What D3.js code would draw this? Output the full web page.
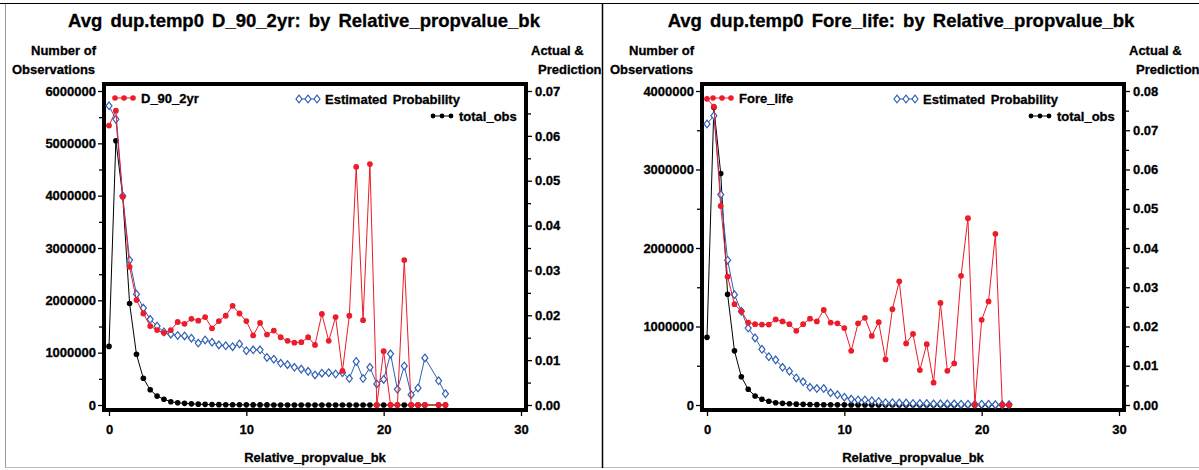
<!DOCTYPE html>
<html>
<head>
<meta charset="utf-8">
<script src="https://cdn.jsdelivr.net/npm/d3@7"></script>
<style>
  body { margin: 0; background: #fff; }
  text { font-family: "Liberation Sans", Arial, sans-serif; font-weight: bold; fill: #000; stroke: #000; stroke-width: 0.3px; }
</style>
</head>
<body>
<svg id="chart"></svg>
<script>
// bucket values of Relative_propvalue_bk
var xLeft = [0,0.5,1,1.5,2,2.5,3,3.5,4,4.5,5,5.5,6,6.5,7,7.5,8,8.5,9,9.5,10,10.5,11,11.5,12,12.5,13,13.5,14,14.5,
             15,15.5,16,16.5,17,17.5,18,18.5,19,19.5,20,20.5,21,21.5,22,22.5,23,24,24.5];
var xRight = [0,0.5,1,1.5,2,2.5,3,3.5,4,4.5,5,5.5,6,6.5,7,7.5,8,8.5,9,9.5,10,10.5,11,11.5,12,12.5,13,13.5,14,14.5,
              15,15.5,16,16.5,17,17.5,18,18.5,19,19.5,20,20.5,21,21.5,22];

// left panel: D_90_2yr
var obsLeft = [1120000,5050000,3990000,1940000,970000,510000,290000,170000,110000,63000,
               44000,32000,22000,16000,12000,9000,7000,5500,4300,3400,
               2700,2200,1800,1500,1200,1000,850,700,600,500,
               420,350,300,250,210,180,150,120,100,90,
               80,70,60,50,40,35,30,20,15];
var d90Actual = [0.0623,0.0656,0.0464,0.0308,0.0234,0.0204,0.0176,0.0167,0.0161,0.0167,
                 0.0185,0.0181,0.0192,0.0188,0.0196,0.0171,0.0187,0.0199,0.0221,0.0204,
                 0.0187,0.0155,0.0183,0.0157,0.0166,0.0151,0.0143,0.0139,0.0140,0.0151,
                 0.0134,0.0203,0.0143,0.0196,0.0076,0.0199,0.0531,0.0189,0.0537,0,
                 0.0120,0,0,0.0323,0,0,0,0,0];
var d90Est = [0.0667,0.0637,0.0466,0.0323,0.0247,0.0216,0.0191,0.0176,0.0163,0.0158,
              0.0155,0.0154,0.0149,0.0138,0.0145,0.0140,0.0134,0.0132,0.0130,0.0136,
              0.0121,0.0123,0.0123,0.0106,0.0102,0.0093,0.0090,0.0084,0.0080,0.0075,
              0.0067,0.0071,0.0072,0.0069,0.0072,0.0059,0.0097,0.0059,0.0084,0.0047,
              0.0057,0.0114,0.0035,0.0087,0.0023,0.0038,0.0105,0.0054,0.0025];

// right panel: Fore_life
var obsRight = [862000,3790000,2950000,1410000,690000,360000,200000,115000,73000,47000,
                29000,21000,15000,11000,8000,6000,4500,3500,2700,2000,
                1600,1300,1000,800,650,520,420,340,280,230,
                190,160,130,110,90,75,60,50,40,32,
                25,20,15,10,8];
var foreActual = [0.0780,0.0760,0.0507,0.0327,0.0257,0.0239,0.0210,0.0206,0.0205,0.0205,
                  0.0218,0.0213,0.0206,0.0189,0.0206,0.0220,0.0213,0.0242,0.0210,0.0208,
                  0.0196,0.0138,0.0208,0.0222,0.0176,0.0211,0.0116,0.0244,0.0315,0.0157,
                  0.0181,0.0089,0.0155,0.0057,0.0260,0.0087,0.0106,0.0329,0.0476,0,
                  0.0217,0.0264,0.0436,0,0];
var foreEst = [0.0716,0.0737,0.0536,0.0369,0.0281,0.0239,0.0196,0.0171,0.0142,0.0123,
               0.0115,0.0096,0.0086,0.0069,0.0059,0.0045,0.0042,0.0042,0.0031,0.0026,
               0.0020,0.0015,0.0013,0.0013,0.0011,0.0009,0.0006,0.0006,0.0005,0.0005,
               0.0004,0.0004,0.0004,0.0003,0.0003,0.0003,0.0003,0.0002,0.0002,0.0002,
               0.0002,0.0002,0.0001,0.0001,0.0001];

// tick labels
var xTicks = [0, 10, 20, 30];
var obsTicksLeft = [0,1000000,2000000,3000000,4000000,5000000,6000000];
var obsTicksRight = [0,1000000,2000000,3000000,4000000];
var probTicksLeft = [0,0.01,0.02,0.03,0.04,0.05,0.06,0.07];
var probTicksRight = [0,0.01,0.02,0.03,0.04,0.05,0.06,0.07,0.08];

var W = 1199, H = 470;
var red = "#ec1c2a", blue = "#2f5fb3";

var svg = d3.select("#chart").attr("width", W).attr("height", H);
svg.append("rect").attr("width", W).attr("height", H).attr("fill", "#fff");

// outer page borders
svg.append("line").attr("x1", 0).attr("x2", W).attr("y1", 3.5).attr("y2", 3.5).attr("stroke", "#000");
svg.append("line").attr("x1", 5.5).attr("x2", 5.5).attr("y1", 4).attr("y2", 468).attr("stroke", "#999");
svg.append("line").attr("x1", 5).attr("x2", W).attr("y1", 467.5).attr("y2", 467.5).attr("stroke", "#bbb");
svg.append("line").attr("x1", 602.5).attr("x2", 602.5).attr("y1", 4).attr("y2", 468).attr("stroke", "#000").attr("stroke-width", 1.5);

function dot(sel, color, r) {
  sel.append("circle").attr("r", r).attr("fill", color);
}
function diamond(sel) {
  sel.append("path").attr("d", "M0,-3.8L3,0L0,3.8L-3,0Z")
    .attr("fill", "#fff").attr("stroke", blue).attr("stroke-width", 1.2);
}

function drawSeries(g, xs, vals, x, y, color, marker) {
  var line = d3.line()
    .x(function(d, i) { return x(xs[i]); })
    .y(function(d) { return y(d); });
  g.append("path").datum(vals)
    .attr("d", line)
    .attr("fill", "none")
    .attr("stroke", color)
    .attr("stroke-width", 1);
  g.selectAll(null).data(vals).enter().append("g")
    .attr("transform", function(d, i) { return "translate(" + x(xs[i]) + "," + y(d) + ")"; })
    .each(function() { marker(d3.select(this)); });
}

function legendItem(g, x0, yy, color, marker, label) {
  g.append("line").attr("x1", x0).attr("x2", x0 + 18).attr("y1", yy).attr("y2", yy)
    .attr("stroke", color).attr("stroke-width", 1);
  [0, 9, 18].forEach(function(dx) {
    marker(g.append("g").attr("transform", "translate(" + (x0 + dx) + "," + yy + ")"));
  });
  g.append("text").attr("x", x0 + 26).attr("y", yy + 4.5).attr("font-size", 13)
    .attr("word-spacing", 2).text(label);
}

function drawPanel(p) {
  var g = svg.append("g").attr("transform", "translate(" + p.ox + ",0)");
  var fl = 104, fr = 526, ft = 84, fb = 410;

  var x = d3.scaleLinear().domain([0, 30]).range([109, 521]);
  var y = d3.scaleLinear().domain([0, p.obsMax]).range([405, 91]);
  var y2 = d3.scaleLinear().domain([0, p.probMax]).range([405, 91]);

  // title and axis headings
  g.append("text").attr("x", p.titleX).attr("y", 27).attr("text-anchor", "middle")
    .attr("font-size", 18.5).attr("word-spacing", 3).attr("stroke-width", 0.4).text(p.title);
  g.append("text").attr("x", 31).attr("y", 55).attr("font-size", 13).text("Number of");
  g.append("text").attr("x", 12).attr("y", 74).attr("font-size", 13).text("Observations");
  g.append("text").attr("x", 531).attr("y", 55).attr("font-size", 13).text("Actual &");
  g.append("text").attr("x", 538).attr("y", 74).attr("font-size", 13).text("Prediction");
  g.append("text").attr("x", (fl + fr) / 2).attr("y", 462).attr("text-anchor", "middle")
    .attr("font-size", 13).text("Relative_propvalue_bk");

  // axes
  var fmtObs = d3.format("d"), fmtProb = d3.format(".2f");
  g.append("g").attr("transform", "translate(" + (fl - 2) + ",0)")
    .call(d3.axisLeft(y).tickValues(p.obsTicks).tickFormat(fmtObs).tickSize(4).tickPadding(2));
  g.append("g").attr("transform", "translate(" + (fl - 2) + ",0)")
    .call(d3.axisLeft(y).tickValues(p.obsTicks.slice(1).map(function(v) { return v - p.obsTicks[1] / 2; }))
      .tickFormat("").tickSize(3));
  g.append("g").attr("transform", "translate(" + (fr + 2) + ",0)")
    .call(d3.axisRight(y2).tickValues(p.probTicks).tickFormat(fmtProb).tickSize(4).tickPadding(3));
  g.append("g").attr("transform", "translate(" + (fr + 2) + ",0)")
    .call(d3.axisRight(y2).tickValues(p.probTicks.slice(1).map(function(v) { return v - 0.005; }))
      .tickFormat("").tickSize(3));
  g.append("g").attr("transform", "translate(0," + (fb + 2) + ")")
    .call(d3.axisBottom(x).tickValues(xTicks).tickFormat(d3.format("d")).tickSize(4).tickPadding(9));
  g.selectAll(".domain").remove();
  g.selectAll(".tick line").attr("stroke", "#000").attr("stroke-width", 1.3);
  g.selectAll(".tick text").attr("font-size", 13).attr("font-family", null).attr("fill", "#000");

  // frame
  g.append("rect").attr("x", fl).attr("y", ft).attr("width", fr - fl).attr("height", fb - ft)
    .attr("fill", "none").attr("stroke", "#000").attr("stroke-width", 4);

  // series
  drawSeries(g, p.xs, p.obs, x, y, "#000", function(s) { dot(s, "#000", 2.8); });
  drawSeries(g, p.xs, p.est, x, y2, blue, diamond);
  drawSeries(g, p.xs, p.actual, x, y2, red, function(s) { dot(s, red, 2.9); });

  // legend
  legendItem(g, fl + 11, 98, red, function(s) { dot(s, red, 2.8); }, p.name);
  legendItem(g, fl + 195, 99, blue, diamond, "Estimated Probability");
  legendItem(g, fl + 329, 116, "#000", function(s) { dot(s, "#000", 2.4); }, "total_obs");
}

drawPanel({
  ox: 0, titleX: 304,
  title: "Avg dup.temp0 D_90_2yr: by Relative_propvalue_bk",
  name: "D_90_2yr",
  xs: xLeft, obs: obsLeft, actual: d90Actual, est: d90Est,
  obsMax: 6000000, obsTicks: obsTicksLeft,
  probMax: 0.07, probTicks: probTicksLeft
});
drawPanel({
  ox: 598, titleX: 303,
  title: "Avg dup.temp0 Fore_life: by Relative_propvalue_bk",
  name: "Fore_life",
  xs: xRight, obs: obsRight, actual: foreActual, est: foreEst,
  obsMax: 4000000, obsTicks: obsTicksRight,
  probMax: 0.08, probTicks: probTicksRight
});
</script>
</body>
</html>
